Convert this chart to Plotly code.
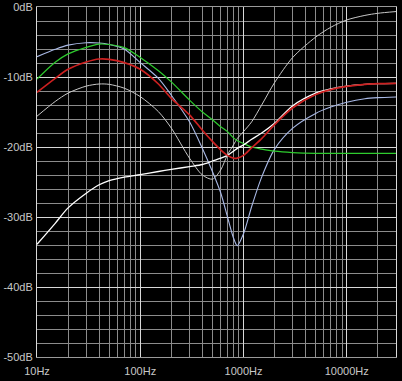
import numpy as np
import plotly.graph_objects as go

freq = [10, 15, 20, 30, 40, 50, 70, 100, 150, 200, 300, 400, 500, 600, 700, 800, 870,
        1000, 1200, 1500, 2000, 3000, 5000, 7000, 10000, 15000, 20000, 30000]

blue = [-7.1, -6.05, -5.45, -5.1, -5.15, -5.35, -6.0, -7.95, -10.2, -12.6, -16.4, -20.2, -23.5,
        -26.5, -30.0, -33.0, -34.1, -32.4, -28.5, -24.3, -20.3, -17.3, -15.2, -14.3, -13.6,
        -13.1, -12.95, -12.85]
green = [-10.3, -7.9, -6.7, -5.76, -5.3, -5.36, -5.8, -7.2, -9.1, -10.7, -13.3, -15.0, -16.1,
         -17.1, -17.8, -18.7, -19.1, -19.5, -20.0, -20.3, -20.6, -20.8, -20.9, -20.9, -20.9,
         -20.9, -20.9, -20.9]
red = [-12.2, -10.2, -8.9, -7.86, -7.43, -7.48, -7.95, -8.9, -11.0, -13.05, -15.4, -17.6, -19.2,
       -20.4, -21.2, -21.6, -21.6, -21.2, -20.1, -18.8, -16.8, -14.4, -12.5, -11.8, -11.35,
       -11.05, -10.95, -10.9]
dimwhite = [-15.6, -13.5, -12.3, -11.3, -11.0, -11.05, -11.6, -12.8, -14.95, -17.3, -21.6, -24.0,
            -24.6, -23.3, -21.1, -19.7, -18.8, -17.8, -16.4, -14.0, -10.8, -7.2, -4.3, -2.9,
            -1.85, -1.2, -0.9, -0.65]
white = [-33.9, -30.9, -28.7, -26.6, -25.4, -24.8, -24.3, -23.95, -23.5, -23.2, -22.8, -22.5,
         -22.0, -21.6, -21.2, -20.6, -20.2, -19.7, -18.9, -18.0, -16.6, -14.1, -12.3, -11.7,
         -11.3, -11.05, -10.95, -10.9]

x_ticks = [10, 100, 1000, 10000]
x_labels = ["10Hz", "100Hz", "1000Hz", "10000Hz"]
y_ticks = [0, -10, -20, -30, -40, -50]
y_labels = ["0dB", "-10dB", "-20dB", "-30dB", "-40dB", "-50dB"]

minor_x = [m * 10 ** d for d in range(1, 5) for m in range(2, 10) if m * 10 ** d <= 30000]

fig = go.Figure()
series = [
    (dimwhite, "#c8c8c8", 1.0),
    (blue, "#a9b9e6", 1.1),
    (green, "#2ecc2e", 1.2),
    (white, "#ffffff", 1.3),
    (red, "#cc2020", 1.7),
]
for ys, col, w in series:
    fig.add_trace(go.Scatter(x=freq, y=ys, mode="lines",
                             line=dict(color=col, width=w, shape="spline", smoothing=0.8),
                             showlegend=False, hoverinfo="skip"))

fig.update_layout(
    width=402, height=381,
    margin=dict(l=37, r=6, t=7, b=24, autoexpand=False),
    paper_bgcolor="black", plot_bgcolor="black",
    font=dict(family="Liberation Sans, Arial", size=11, color="#c8c8c8"),
)
fig.update_xaxes(
    type="log", range=[1, np.log10(30000)],
    tickvals=x_ticks, ticktext=x_labels, automargin=False,
    showgrid=True, gridcolor="#d8d8d8", gridwidth=1,
    minor=dict(tickvals=minor_x, showgrid=True, gridcolor="#8c8c8c", gridwidth=1),
    showline=True, linecolor="#9a9a9a", mirror=True,
    ticks="outside", ticklen=4, tickcolor="black",
    zeroline=False,
)
fig.update_yaxes(
    range=[-50, 0],
    tickvals=y_ticks, ticktext=y_labels, automargin=False,
    showgrid=True, gridcolor="#d8d8d8", gridwidth=1,
    minor=dict(dtick=2, showgrid=True, gridcolor="#8c8c8c", gridwidth=1),
    showline=True, linecolor="#d8d8d8", mirror=True,
    ticks="outside", ticklen=1, tickcolor="black",
    zeroline=False,
)
fig.write_html("out.html", config={"displayModeBar": False, "staticPlot": True},
               post_script="document.body.style.margin='0';document.body.style.background='black';")
